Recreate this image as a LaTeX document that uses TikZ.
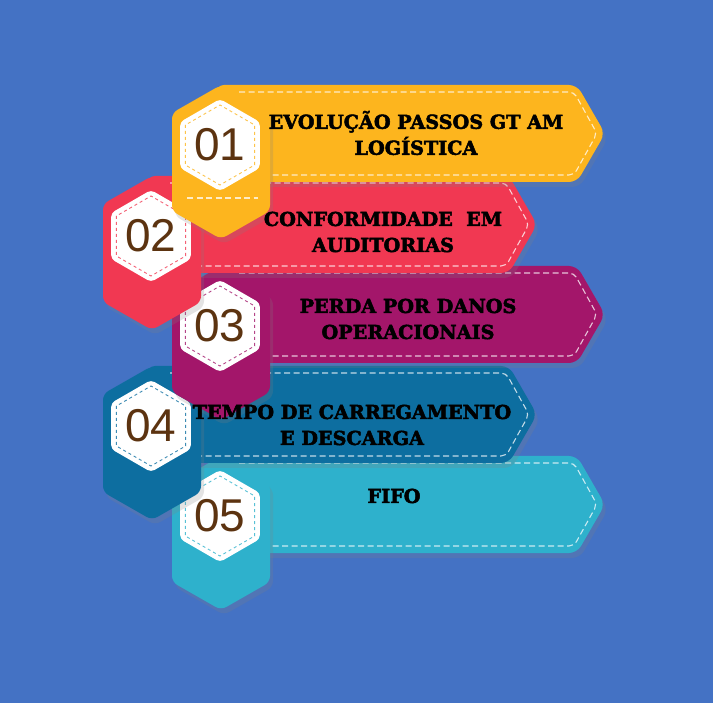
\documentclass[tikz,border=0pt]{standalone}
\usepackage{fontspec}
\setmainfont{DejaVu Serif}
\newfontfamily\itemfont[BoldFeatures={FakeBold=2.6}]{DejaVu Serif}
\newfontfamily\numfont{Liberation Sans}
\usetikzlibrary{shapes.geometric,shadows}

\definecolor{bgblue}{HTML}{4472C4}
\definecolor{yellowbox}{HTML}{FDB51E}
\definecolor{pinkbox}{HTML}{F13852}
\definecolor{purplebox}{HTML}{A3166A}
\definecolor{bluebox}{HTML}{0D6EA0}
\definecolor{cyanbox}{HTML}{2EB1CC}
\definecolor{numbrown}{HTML}{5C3310}

\begin{document}
\begin{tikzpicture}[x=1pt,y=-1pt,
	banner/.style={fill=#1, rounded corners=8pt, drop shadow={opacity=.22,shadow xshift=3pt,shadow yshift=-5pt}},
	tallhex/.style={fill=#1, rounded corners=6pt, drop shadow={opacity=.22,shadow xshift=3pt,shadow yshift=-5pt}},
	stitch/.style={draw=white, draw opacity=.75, line width=1.1pt, dash pattern=on 6pt off 3.5pt, rounded corners=5pt},
	numhex/.style={regular polygon, regular polygon sides=6, shape border rotate=90, minimum size=92pt, inner sep=0pt, fill=white, rounded corners=4pt},
	innerhex/.style={regular polygon, regular polygon sides=6, shape border rotate=90, minimum size=80pt, inner sep=0pt, draw=#1!80, dashed, line width=.9pt},
	numtext/.style={font=\numfont\fontsize{46}{46}\selectfont, text=numbrown, inner sep=0pt},
	itemtext/.style={font=\itemfont\bfseries\fontsize{19.2}{26}\selectfont, align=center, text=black}]
	
	\useasboundingbox (0,0) rectangle (713,703);
	\fill[bgblue] (0,0) rectangle (713,703);
	
	\foreach \n/\cx/\ty/\rx/\col in {5/221/456/577/cyanbox, 4/152/366/509/bluebox, 3/221/266/577/purplebox, 2/152/176/509/pinkbox, 1/221/85/577/yellowbox}{
		\fill[banner=\col] (\cx-5,\ty) -- (\rx,\ty) -- (\rx+28,\ty+48.5) -- (\rx,\ty+97) -- (\cx-5,\ty+97) -- cycle;
		\draw[stitch] (\cx+18,\ty+7) -- (\rx-3,\ty+7) -- (\rx+20,\ty+48.5) -- (\rx-3,\ty+90) -- (\cx+18,\ty+90);
		\fill[tallhex=\col] (\cx,\ty) -- (\cx+49,\ty+28) -- (\cx+49,\ty+126) -- (\cx,\ty+154) -- (\cx-49,\ty+126) -- (\cx-49,\ty+28) -- cycle;
		\node[numhex] (hex\n) at (\cx-1,\ty+60) {};
		\node[innerhex=\col] (seam\n) at (hex\n) {};
		\node[numtext] (num\n) at (hex\n) {0\n};
	}
	\draw[stitch] (187,198) -- (258,198);
	
	\node[itemtext] (txt1) at (416,133) {EVOLUÇÃO PASSOS GT AM\\LOGÍSTICA};
	\node[itemtext] (txt2) at (383,232) {CONFORMIDADE\ \ EM\\AUDITORIAS};
	\node[itemtext] (txt3) at (408,319) {PERDA POR DANOS\\OPERACIONAIS};
	\node[itemtext] (txt4) at (352,425) {TEMPO DE CARREGAMENTO\\E DESCARGA};
	\node[itemtext] (txt5) at (394,496) {FIFO};
\end{tikzpicture}
\end{document}
